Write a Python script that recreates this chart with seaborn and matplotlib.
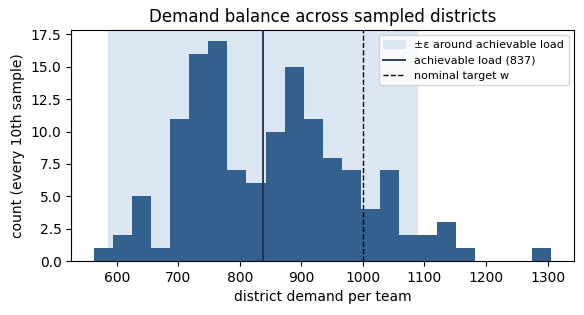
import numpy as np
import pandas as pd
import seaborn as sns
import matplotlib
matplotlib.use("Agg")
import matplotlib.pyplot as plt
from matplotlib.ticker import MultipleLocator

# histogram: 24 equal bins between lo and hi
lo, hi = 563, 1306
counts = [1, 2, 5, 1, 11, 16, 17, 7, 6, 10, 15, 11,
          8, 7, 4, 7, 2, 2, 3, 1, 0, 0, 0, 1]
achievable = 837
target_w = 1000
eps = 0.3

edges = np.linspace(lo, hi, len(counts) + 1)
df = pd.DataFrame({"demand": (edges[:-1] + edges[1:]) / 2, "n": counts})

fig, ax = plt.subplots(figsize=(5.84, 3.15), dpi=100)
ax.axvspan(achievable * (1 - eps), achievable * (1 + eps), color="#dde7f4",
           label="±ε around achievable load", zorder=0)
sns.histplot(data=df, x="demand", weights="n", bins=len(counts), binrange=(lo, hi),
             ax=ax, color="#34608e", alpha=1, edgecolor="none", linewidth=0)
ax.axvline(achievable, color="#1c3150", lw=1.3, label=f"achievable load ({achievable})")
ax.axvline(target_w, color="black", lw=1, ls="--", label="nominal target w")
ax.yaxis.set_major_locator(MultipleLocator(2.5))
ax.set_xlabel("district demand per team")
ax.set_ylabel("count (every 10th sample)")
ax.set_title("Demand balance across sampled districts")
ax.legend(loc="upper right", fontsize=8)
fig.subplots_adjust(left=0.122, right=0.983, top=0.905, bottom=0.171)
fig.savefig("out.png", dpi=100)
